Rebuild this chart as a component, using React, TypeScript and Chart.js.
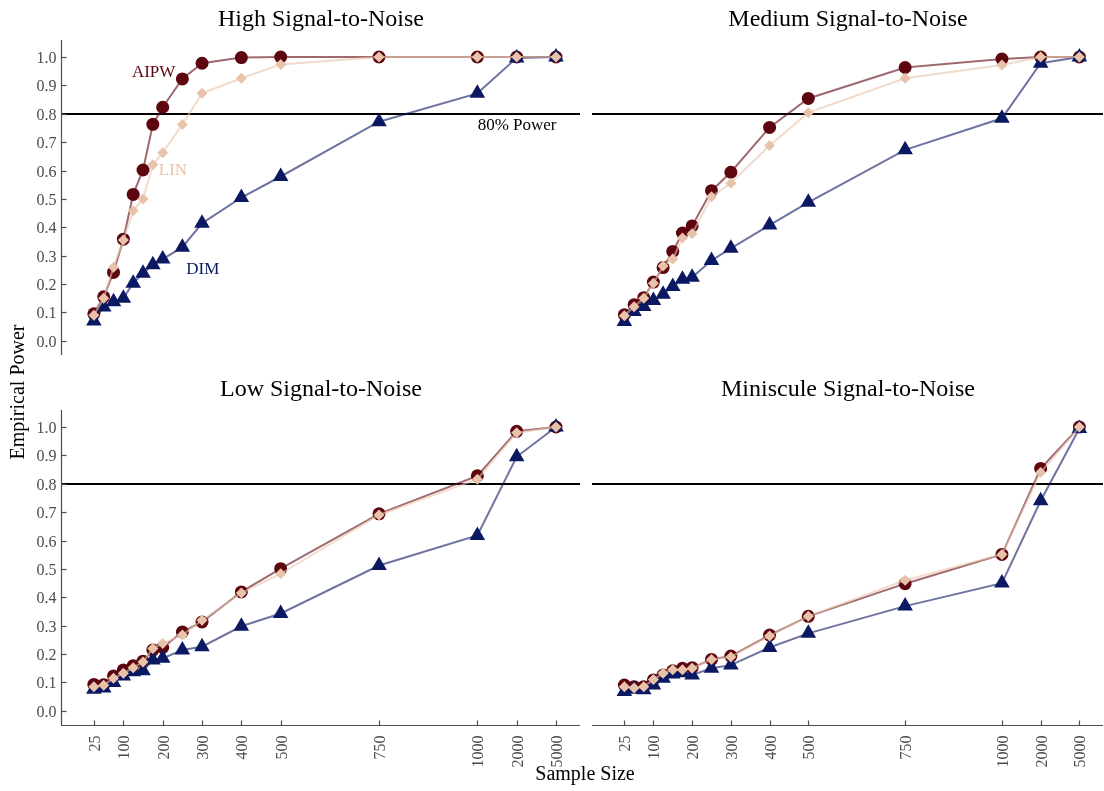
import { useEffect, useRef } from "react";
import { Chart, registerables } from "chart.js";

Chart.register(...registerables);

// Sample sizes along the x axis
const sampleSizes = [25, 50, 75, 100, 125, 150, 175, 200, 250, 300, 400, 500, 750, 1000, 2000, 5000];
const xTickSizes = [25, 100, 200, 300, 400, 500, 750, 1000, 2000, 5000];
const yTickValues = [0, 0.1, 0.2, 0.3, 0.4, 0.5, 0.6, 0.7, 0.8, 0.9, 1.0];
const powerTarget = 0.8;

// Empirical power by estimator, one array per signal-to-noise setting
const aipwHigh = [0.095, 0.155, 0.241, 0.358, 0.516, 0.602, 0.763, 0.823, 0.923, 0.978, 0.998, 1.0, 1.0, 1.0, 1.0, 1.0];
const linHigh = [0.09, 0.15, 0.259, 0.355, 0.458, 0.5, 0.62, 0.663, 0.762, 0.872, 0.925, 0.974, 1.0, 1.0, 1.0, 1.0];
const dimHigh = [0.07, 0.119, 0.138, 0.15, 0.203, 0.238, 0.268, 0.288, 0.33, 0.414, 0.505, 0.579, 0.772, 0.872, 0.997, 1.0];

const aipwMedium = [0.092, 0.127, 0.152, 0.207, 0.258, 0.315, 0.38, 0.405, 0.529, 0.594, 0.752, 0.854, 0.963, 0.993, 1.0, 1.0];
const linMedium = [0.088, 0.12, 0.15, 0.203, 0.264, 0.288, 0.362, 0.377, 0.508, 0.555, 0.688, 0.804, 0.925, 0.972, 1.0, 1.0];
const dimMedium = [0.068, 0.103, 0.121, 0.142, 0.164, 0.191, 0.217, 0.224, 0.283, 0.326, 0.408, 0.488, 0.673, 0.784, 0.978, 1.0];

const aipwLow = [0.093, 0.092, 0.123, 0.144, 0.159, 0.175, 0.214, 0.223, 0.278, 0.313, 0.419, 0.501, 0.694, 0.828, 0.985, 1.0];
const linLow = [0.085, 0.09, 0.115, 0.132, 0.152, 0.172, 0.22, 0.237, 0.267, 0.319, 0.415, 0.483, 0.69, 0.816, 0.98, 1.0];
const dimLow = [0.076, 0.08, 0.1, 0.123, 0.138, 0.141, 0.179, 0.185, 0.214, 0.226, 0.298, 0.343, 0.512, 0.618, 0.895, 1.0];

const aipwMini = [0.091, 0.085, 0.085, 0.109, 0.126, 0.141, 0.15, 0.152, 0.181, 0.193, 0.267, 0.333, 0.448, 0.551, 0.854, 1.0];
const linMini = [0.085, 0.08, 0.085, 0.11, 0.132, 0.145, 0.145, 0.15, 0.181, 0.19, 0.264, 0.333, 0.46, 0.551, 0.84, 1.0];
const dimMini = [0.068, 0.076, 0.074, 0.091, 0.115, 0.13, 0.134, 0.126, 0.15, 0.161, 0.223, 0.273, 0.369, 0.45, 0.74, 0.995];

const W = 1112;
const H = 791;
const FONT = '"Liberation Serif", "Times New Roman", serif';
const TEXT_GREY = "#4d4d4d";

const AIPW_COLOR = "#5e0610";
const AIPW_LINE = "rgba(94, 6, 16, 0.6)";
const LIN_COLOR = "#e8c3aa";
const LIN_LINE = "rgba(232, 195, 170, 0.6)";
const DIM_COLOR = "#0b1862";
const DIM_LINE = "rgba(11, 24, 98, 0.6)";

// Position on the axis: linear up to 1000, then one equal step per larger size
function axisPos(n: number): number {
  if (n <= 1000) return n;
  const extra = sampleSizes.filter((s) => s > 1000 && s <= n).length;
  return 1000 + 100 * extra;
}

type Panel = {
  title: string;
  aipw: number[];
  lin: number[];
  dim: number[];
  left: number;
  right: number;
  top: number;
  bottom: number;
  yAxis: boolean;
  xAxis: boolean;
  labels: boolean;
  globalText: boolean;
};

const panels: Panel[] = [
  { title: "High Signal-to-Noise", aipw: aipwHigh, lin: linHigh, dim: dimHigh, left: 62, right: 580, top: 40, bottom: 355, yAxis: true, xAxis: false, labels: true, globalText: true },
  { title: "Medium Signal-to-Noise", aipw: aipwMedium, lin: linMedium, dim: dimMedium, left: 593, right: 1111, top: 40, bottom: 355, yAxis: false, xAxis: false, labels: false, globalText: false },
  { title: "Low Signal-to-Noise", aipw: aipwLow, lin: linLow, dim: dimLow, left: 62, right: 580, top: 410, bottom: 725, yAxis: true, xAxis: true, labels: false, globalText: false },
  { title: "Miniscule Signal-to-Noise", aipw: aipwMini, lin: linMini, dim: dimMini, left: 593, right: 1111, top: 410, bottom: 725, yAxis: false, xAxis: true, labels: false, globalText: false },
];

function makeDecor(p: Panel) {
  return {
    id: "panelDecor",
    beforeDatasetsDraw(chart: any) {
      const { ctx, chartArea } = chart;
      const ys = chart.scales.y;
      const y = Math.round(ys.getPixelForValue(powerTarget));
      ctx.save();
      ctx.strokeStyle = "#000000";
      ctx.lineWidth = 2;
      ctx.beginPath();
      ctx.moveTo(chartArea.left - 1, y);
      ctx.lineTo(chartArea.right, y);
      ctx.stroke();
      ctx.restore();
    },
    afterDraw(chart: any) {
      const { ctx, chartArea } = chart;
      const xs = chart.scales.x;
      const ys = chart.scales.y;
      ctx.save();

      // panel title
      ctx.fillStyle = "#000000";
      ctx.font = `24px ${FONT}`;
      ctx.textAlign = "center";
      ctx.textBaseline = "middle";
      ctx.fillText(p.title, (chartArea.left + chartArea.right) / 2, chartArea.top - 20);

      ctx.strokeStyle = TEXT_GREY;
      ctx.lineWidth = 1.2;

      if (p.yAxis) {
        const ax = chartArea.left - 0.5;
        ctx.beginPath();
        ctx.moveTo(ax, chartArea.top);
        ctx.lineTo(ax, chartArea.bottom);
        ctx.stroke();
        ctx.fillStyle = TEXT_GREY;
        ctx.font = `16px ${FONT}`;
        ctx.textAlign = "right";
        ctx.textBaseline = "middle";
        yTickValues.forEach((v) => {
          const y = Math.round(ys.getPixelForValue(v)) + 0.5;
          ctx.beginPath();
          ctx.moveTo(ax, y);
          ctx.lineTo(ax + 5, y);
          ctx.stroke();
          ctx.fillText(v.toFixed(1), ax - 5, y + 1);
        });
      }

      if (p.xAxis) {
        const ay = chartArea.bottom + 0.5;
        ctx.beginPath();
        ctx.moveTo(chartArea.left - 1, ay);
        ctx.lineTo(chartArea.right, ay);
        ctx.stroke();
        ctx.fillStyle = TEXT_GREY;
        ctx.font = `16px ${FONT}`;
        xTickSizes.forEach((n) => {
          const x = Math.round(xs.getPixelForValue(axisPos(n))) + 0.5;
          ctx.beginPath();
          ctx.moveTo(x, ay);
          ctx.lineTo(x, ay - 5);
          ctx.stroke();
          ctx.save();
          ctx.translate(x + 1, ay + 10);
          ctx.rotate(-Math.PI / 2);
          ctx.textAlign = "right";
          ctx.textBaseline = "middle";
          ctx.fillText(String(n), 0, 0);
          ctx.restore();
        });
      }

      if (p.labels) {
        ctx.font = `17px ${FONT}`;
        ctx.textAlign = "center";
        ctx.textBaseline = "middle";
        ctx.fillStyle = AIPW_COLOR;
        ctx.fillText("AIPW", xs.getPixelForValue(177), ys.getPixelForValue(0.947));
        ctx.fillStyle = LIN_COLOR;
        ctx.fillText("LIN", xs.getPixelForValue(226), ys.getPixelForValue(0.599));
        ctx.fillStyle = DIM_COLOR;
        ctx.fillText("DIM", xs.getPixelForValue(302), ys.getPixelForValue(0.25));
        ctx.fillStyle = "#000000";
        ctx.fillText("80% Power", xs.getPixelForValue(1101), ys.getPixelForValue(0.757));
      }

      if (p.globalText) {
        ctx.fillStyle = "#000000";
        ctx.font = `20px ${FONT}`;
        ctx.textAlign = "center";
        ctx.textBaseline = "middle";
        ctx.fillText("Sample Size", 585, 775);
        ctx.save();
        ctx.translate(19, 392);
        ctx.rotate(-Math.PI / 2);
        ctx.fillText("Empirical Power", 0, 0);
        ctx.restore();
      }

      ctx.restore();
    },
  };
}

function series(values: number[]) {
  return sampleSizes.map((n, i) => ({ x: axisPos(n), y: values[i] }));
}

function PanelChart({ panel }: { panel: Panel }) {
  const ref = useRef<HTMLCanvasElement | null>(null);

  useEffect(() => {
    if (!ref.current) return;
    const chart = new Chart(ref.current, {
      type: "line",
      data: {
        datasets: [
          {
            label: "LIN",
            data: series(panel.lin),
            borderColor: LIN_LINE,
            borderWidth: 2,
            pointStyle: "rectRot",
            pointRadius: 5.5,
            pointBackgroundColor: LIN_COLOR,
            pointBorderWidth: 0,
            pointBorderColor: LIN_COLOR,
            tension: 0,
          },
          {
            label: "DIM",
            data: series(panel.dim),
            borderColor: DIM_LINE,
            borderWidth: 2,
            pointStyle: "triangle",
            pointRadius: 9,
            pointBackgroundColor: DIM_COLOR,
            pointBorderWidth: 0,
            pointBorderColor: DIM_COLOR,
            tension: 0,
          },
          {
            label: "AIPW",
            data: series(panel.aipw),
            borderColor: AIPW_LINE,
            borderWidth: 2,
            pointStyle: "circle",
            pointRadius: 6.5,
            pointBackgroundColor: AIPW_COLOR,
            pointBorderWidth: 0,
            pointBorderColor: AIPW_COLOR,
            tension: 0,
          },
        ],
      },
      options: {
        animation: false,
        responsive: false,
        maintainAspectRatio: false,
        devicePixelRatio: 1,
        events: [],
        layout: {
          padding: {
            left: panel.left,
            right: W - panel.right,
            top: panel.top,
            bottom: H - panel.bottom,
          },
        },
        scales: {
          x: { type: "linear", min: -56, max: 1261, display: false },
          y: { type: "linear", min: -0.05, max: 1.06, display: false },
        },
        plugins: {
          legend: { display: false },
          tooltip: { enabled: false },
        },
      },
      plugins: [makeDecor(panel)],
    } as any);
    return () => chart.destroy();
  }, [panel]);

  return (
    <canvas
      ref={ref}
      width={W}
      height={H}
      style={{ position: "absolute", left: 0, top: 0, width: W, height: H }}
    />
  );
}

export default function App() {
  return (
    <div
      style={{
        position: "absolute",
        left: 0,
        top: 0,
        width: 1104,
        height: 791,
        overflow: "hidden",
        background: "#ffffff",
      }}
    >
      {panels.map((p) => (
        <PanelChart key={p.title} panel={p} />
      ))}
    </div>
  );
}
